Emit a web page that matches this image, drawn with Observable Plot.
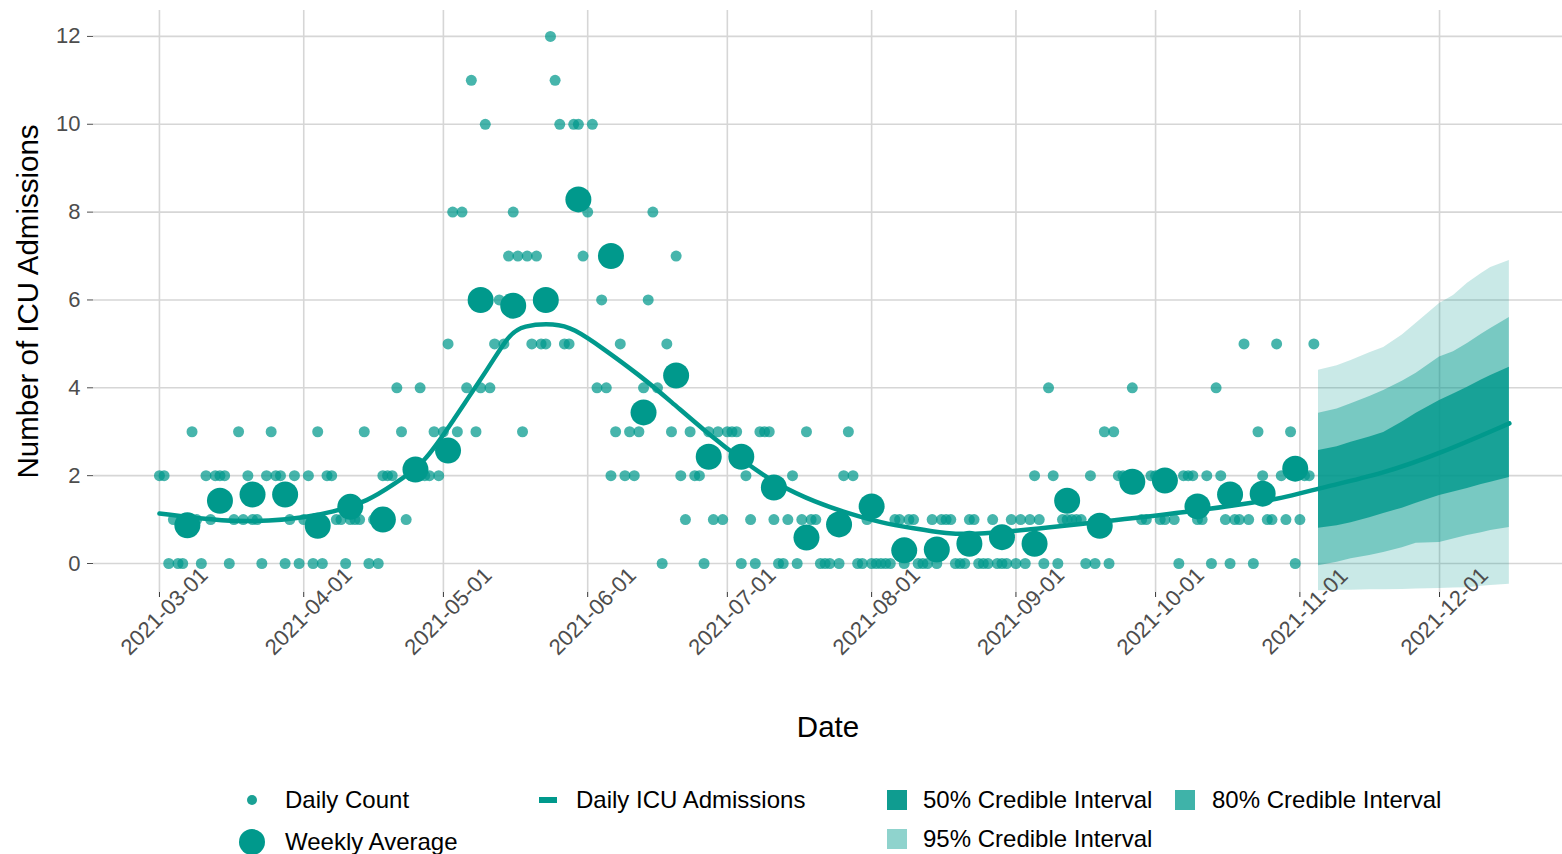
<!DOCTYPE html>
<html><head><meta charset="utf-8">
<script src="https://cdn.jsdelivr.net/npm/d3@7"></script>
<script src="https://cdn.jsdelivr.net/npm/@observablehq/plot@0.6"></script>
<style>
body{margin:0;background:#fff;font-family:"Liberation Sans",Arial,sans-serif;}
#wrap{position:relative;width:1562px;height:854px;overflow:hidden;background:#fff;}
#chart{position:absolute;left:0;top:0;}
#legend{position:absolute;left:0;top:760px;width:1562px;height:94px;}
.key{position:absolute;}
.lbl{position:absolute;font-size:24px;color:#000;line-height:1;transform:translateY(-50%);white-space:nowrap;}
</style></head><body><div id="wrap"><div id="chart"></div><div id="legend"></div></div>
<script>
// ---- data ----
const dailyStart = "2021-03-01";
const dailyCounts = [
  2,2,0,1,0,0,1,3,1,0,
  2,1,2,2,2,0,1,3,1,2,
  1,1,0,2,3,2,2,0,1,2,
  0,1,2,0,3,0,2,2,1,1,
  0,1,1,1,3,0,1,0,2,2,
  2,4,3,1,2,2,4,2,2,3,
  2,3,5,8,3,8,4,11,3,4,
  10,4,5,6,5,7,8,7,3,7,
  5,7,5,5,12,11,10,5,5,10,
  10,7,8,10,4,6,4,2,3,5,
  2,3,2,3,4,6,8,4,0,5,
  3,7,2,1,3,2,2,0,3,1,
  3,1,3,3,3,0,2,1,0,3,
  3,3,1,0,0,1,2,0,1,3,
  1,1,0,0,0,1,0,2,3,2,
  0,0,1,0,0,0,0,0,1,1,
  0,1,1,0,0,0,1,0,1,1,
  1,0,0,0,1,1,0,0,0,1,
  0,0,0,1,0,1,0,1,2,1,
  0,4,2,0,1,1,1,1,1,0,
  2,0,1,3,0,3,2,2,2,4,
  2,1,1,2,2,1,1,2,1,0,
  2,2,2,1,1,2,0,4,2,1,
  0,1,1,5,1,0,3,2,1,1,
  5,2,1,3,0,1,2,2,5
];
const weeklyStart = "2021-03-07";
const weeklyAverages = [0.87,1.43,1.57,1.57,0.86,1.29,1.0,2.14,2.57,6.0,5.87,6.0,8.29,7.0,3.44,4.28,2.43,2.43,1.73,0.59,0.89,1.30,0.30,0.32,0.45,0.6,0.45,1.43,0.86,1.86,1.89,1.30,1.57,1.59,2.16];
const trendDates = ["2021-03-01","2021-03-15","2021-03-25","2021-04-01","2021-04-07","2021-04-15","2021-04-20","2021-04-27","2021-05-03","2021-05-11","2021-05-15","2021-05-18","2021-05-25","2021-05-29","2021-06-04","2021-06-12","2021-06-19","2021-06-26","2021-07-05","2021-07-12","2021-07-20","2021-07-27","2021-08-03","2021-08-10","2021-08-17","2021-08-24","2021-09-08","2021-09-22","2021-10-07","2021-10-21","2021-10-28","2021-11-05","2021-11-19","2021-12-01","2021-12-16"];
const trendValues = [1.14,0.95,0.97,1.05,1.16,1.43,1.78,2.28,3.25,4.50,5.20,5.42,5.47,5.35,4.92,4.30,3.68,3.03,2.28,1.78,1.39,1.14,0.93,0.80,0.68,0.66,0.82,0.98,1.16,1.37,1.48,1.71,2.05,2.50,3.19];
const forecastDates = ["2021-11-05","2021-11-09","2021-11-12","2021-11-16","2021-11-19","2021-11-23","2021-11-26","2021-12-01","2021-12-04","2021-12-07","2021-12-10","2021-12-12","2021-12-16"];
const ci95High = [4.40,4.50,4.62,4.80,4.92,5.20,5.47,5.92,6.10,6.38,6.60,6.74,6.90];
const ci80High = [3.42,3.52,3.64,3.80,3.94,4.15,4.33,4.70,4.82,5.01,5.22,5.35,5.60];
const ci50High = [2.57,2.66,2.76,2.88,2.98,3.22,3.42,3.71,3.86,4.01,4.18,4.28,4.47];
const ci50Low  = [0.80,0.86,0.93,1.04,1.14,1.26,1.37,1.55,1.63,1.71,1.80,1.85,1.96];
const ci80Low  = [-0.05,0.03,0.11,0.18,0.25,0.36,0.46,0.48,0.56,0.64,0.70,0.75,0.82];
const ci95Low  = [-0.62,-0.61,-0.61,-0.60,-0.60,-0.59,-0.58,-0.57,-0.56,-0.55,-0.52,-0.50,-0.47];
const yTicks = [0,2,4,6,8,10,12];
const xTickLabels = ["2021-03-01","2021-04-01","2021-05-01","2021-06-01","2021-07-01","2021-08-01","2021-09-01","2021-10-01","2021-11-01","2021-12-01"];

// ---- build tables ----
const teal = "#00998C";
const t0 = new Date(dailyStart);
const daily = dailyCounts.map((v,i)=>({date:d3.utcDay.offset(t0,i), value:v}));
const w0 = new Date(weeklyStart);
const weekly = weeklyAverages.map((v,i)=>({date:d3.utcDay.offset(w0,7*i), value:v}));
const trend = trendDates.map((d,i)=>({date:new Date(d), value:trendValues[i]}));
const fc = forecastDates.map((d,i)=>({date:new Date(d), lo95:ci95Low[i], hi95:ci95High[i], lo80:ci80Low[i], hi80:ci80High[i], lo50:ci50Low[i], hi50:ci50High[i]}));
const xTicks = xTickLabels.map(d=>new Date(d));
const font = '"Liberation Sans", Arial, sans-serif';

const chart = Plot.plot({
  width:1562, height:760, marginLeft:93, marginRight:0, marginTop:10, marginBottom:168,
  style:{fontFamily:font, background:"#fff", overflow:"visible"},
  x:{type:"utc", domain:[new Date("2021-02-14T20:00Z"), new Date("2021-12-27T10:00Z")]},
  y:{domain:[-0.66,12.59]},
  marks:[
    Plot.gridY(yTicks,{stroke:"#d6d6d6", strokeOpacity:1, strokeWidth:1.6}),
    Plot.gridX(xTicks,{stroke:"#d6d6d6", strokeOpacity:1, strokeWidth:1.6}),
    Plot.areaY(fc,{x:"date", y1:"lo95", y2:"hi95", fill:teal, fillOpacity:0.21}),
    Plot.areaY(fc,{x:"date", y1:"lo80", y2:"hi80", fill:teal, fillOpacity:0.40}),
    Plot.areaY(fc,{x:"date", y1:"lo50", y2:"hi50", fill:teal, fillOpacity:0.80}),
    Plot.dot(daily,{x:"date", y:"value", r:5.5, fill:teal, fillOpacity:0.72}),
    Plot.line(trend,{x:"date", y:"value", stroke:teal, strokeWidth:4.5, curve:"basis"}),
    Plot.dot(weekly,{x:"date", y:"value", r:13, fill:teal}),
    Plot.axisY(yTicks,{tickSize:6, tickPadding:7, fontSize:22, color:"#4d4d4d", label:null}),
    Plot.axisX(xTicks,{tickSize:5, tickFormat:()=>"", label:null, color:"#333"}),
    Plot.text(xTicks,{x:d=>d, frameAnchor:"bottom", text:(d,i)=>xTickLabels[i], rotate:-45, textAnchor:"middle", lineAnchor:"middle", dx:5, dy:19, fontSize:22, fill:"#4d4d4d"}),
    Plot.text(["Date"],{frameAnchor:"bottom", text:d=>d, textAnchor:"middle", lineAnchor:"middle", dy:135, fontSize:29.5, fill:"#000"}),
    Plot.text(["Number of ICU Admissions"],{frameAnchor:"left", text:d=>d, rotate:-90, textAnchor:"middle", lineAnchor:"middle", dx:-65, fontSize:29.5, fill:"#000"})
  ]
});
document.getElementById("chart").appendChild(chart);

// ---- legend ----
const legendItems = [
  {label:"Daily Count", kind:"dot", r:5, color:"#1aa195", kx:252, tx:285, y:40},
  {label:"Weekly Average", kind:"dot", r:13, color:teal, kx:252, tx:285, y:82},
  {label:"Daily ICU Admissions", kind:"dash", color:teal, kx:548, tx:576, y:40},
  {label:"50% Credible Interval", kind:"sq", color:"#0f9c90", kx:897, tx:923, y:40},
  {label:"80% Credible Interval", kind:"sq", color:"#3fb3a9", kx:1185, tx:1212, y:40},
  {label:"95% Credible Interval", kind:"sq", color:"#8fd3cd", kx:897, tx:923, y:79}
];
const lg = document.getElementById("legend");
for (const it of legendItems) {
  const k = document.createElement("div");
  k.className = "key";
  if (it.kind === "dot") {
    Object.assign(k.style,{left:(it.kx-it.r)+"px", top:(it.y-it.r)+"px", width:2*it.r+"px", height:2*it.r+"px", borderRadius:"50%", background:it.color});
  } else if (it.kind === "dash") {
    Object.assign(k.style,{left:(it.kx-9)+"px", top:(it.y-3)+"px", width:"18px", height:"6px", background:it.color});
  } else {
    Object.assign(k.style,{left:(it.kx-10)+"px", top:(it.y-10)+"px", width:"20px", height:"20px", background:it.color});
  }
  lg.appendChild(k);
  const t = document.createElement("div");
  t.className = "lbl";
  t.textContent = it.label;
  Object.assign(t.style,{left:it.tx+"px", top:it.y+"px"});
  lg.appendChild(t);
}
</script></body></html>
